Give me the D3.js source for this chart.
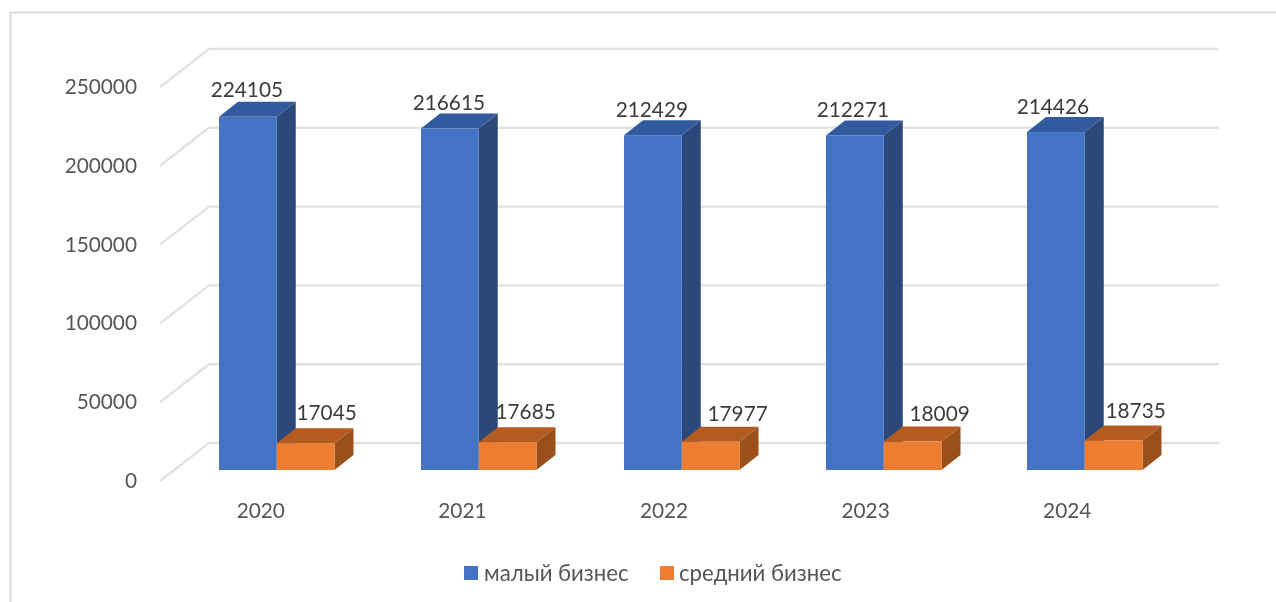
<!DOCTYPE html>
<html><head><meta charset="utf-8">
<script src="https://cdn.jsdelivr.net/npm/d3@7"></script>
<style>html,body{margin:0;padding:0;background:#fff;overflow:hidden}svg{display:block;filter:blur(.6px)}text{font-family:Lato,"Open Sans",sans-serif}</style>
</head><body><div id="c"></div>
<script>
const years = ["2020","2021","2022","2023","2024"];
const smallBiz = [224105,216615,212429,212271,214426];
const mediumBiz = [17045,17685,17977,18009,18735];
const yTicks = [0,50000,100000,150000,200000,250000];
const seriesNames = ["малый бизнес","средний бизнес"];

const W=1276,H=602;
const svg=d3.select("#c").append("svg").attr("width",W).attr("height",H);
svg.append("path").attr("d",`M10.5,602V12.5H${W}`).attr("fill","none").attr("stroke","#dcdcdc").attr("stroke-width",2);

// front plane of the 3D box; the back wall is offset by (wallDx,-wallDy)
const wallDx=49, wallDy=38;
const x=d3.scaleBand().domain(years).range([160,1168]);
const y=d3.scaleLinear().domain([0,250000]).range([481,87]);
const group=d3.scaleBand().domain([0,1]).range([0,115.5]);
const baseLift=11, depthX=19, depthY=15;

const grid=svg.append("g").attr("fill","none").attr("stroke","#e2e2e2").attr("stroke-width",2.4);
yTicks.forEach(t=>{
  grid.append("path").attr("d",`M160,${y(t)}L${160+wallDx},${y(t)-wallDy}H1219`);
});

const axis=d3.axisLeft(y).tickValues(yTicks).tickSize(0).tickPadding(0).tickFormat(d3.format("d"));
const ya=svg.append("g").attr("transform","translate(137,-1)").call(axis);
ya.select(".domain").remove();
ya.selectAll("text").attr("font-size",20.8).attr("fill","#565656").attr("font-family","Lato,'Open Sans',sans-serif").attr("dy","0.36em");

const xa=svg.append("g").attr("transform","translate(0,510)").call(d3.axisBottom(x).tickSize(0).tickPadding(0));
xa.select(".domain").remove();
xa.selectAll("text").attr("font-size",20.8).attr("fill","#565656").attr("font-family","Lato,'Open Sans',sans-serif").attr("dy","0.36em").attr("y",0);

const palettes=[{f:"#4472c4",t:"#325a9e",s:"#2a4879"},{f:"#ed7d31",t:"#b35b20",s:"#9a5019"}];
function bar(g,x0,w,v,p){
  const yb=y(0)-baseLift, yt=y(v)-baseLift;
  g.append("path").attr("d",`M${x0+w},${yb}l${depthX},${-depthY}V${yt-depthY}l${-depthX},${depthY}Z`).attr("fill",p.s);
  g.append("path").attr("d",`M${x0},${yt}l${depthX},${-depthY}h${w}l${-depthX},${depthY}Z`).attr("fill",p.t);
  g.append("rect").attr("x",x0).attr("y",yt).attr("width",w).attr("height",yb-yt).attr("fill",p.f);
}
const barsLeft=[219,421,624,826,1027];
const labelNudge=[[[-1,-27],[-1,-26],[-1,-26],[-2,-26],[-3,-26]],[[21,-31],[18,-31],[27,-28],[27,-28],[22,-30]]];
const g=svg.append("g");
const lab=svg.append("g").attr("font-size",20.8).attr("fill","#3c3c3c").attr("text-anchor","middle");
years.forEach((yr,i)=>{
  const x0=barsLeft[i];
  [smallBiz,mediumBiz].forEach((s,k)=>{
    const bx=x0+group(k), w=group.bandwidth();
    bar(g,bx,w,s[i],palettes[k]);
    lab.append("text").attr("x",bx+w/2+labelNudge[k][i][0]).attr("y",y(s[i])-baseLift+labelNudge[k][i][1]).attr("dy","0.36em").text(s[i]);
  });
});

const leg=svg.append("g").attr("font-size",22.2).attr("fill","#565656");
[[464,484],[660,679]].forEach((p,i)=>{
  leg.append("rect").attr("x",p[0]).attr("y",566).attr("width",14).attr("height",14).attr("fill",palettes[i].f);
  leg.append("text").attr("x",p[1]).attr("y",573).attr("dy","0.36em").text(seriesNames[i]);
});
</script></body></html>
